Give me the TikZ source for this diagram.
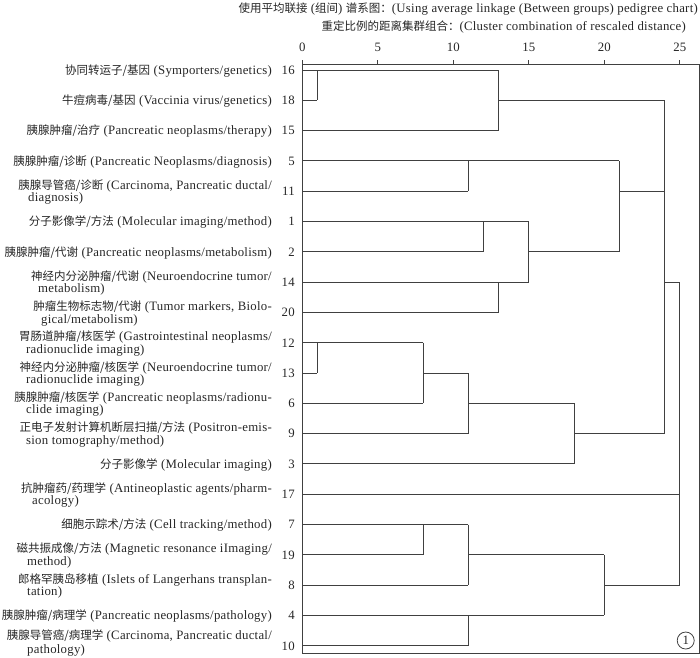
\documentclass[tikz,border=0pt]{standalone}
\usepackage{fontspec}
\setmainfont{Liberation Serif}[LetterSpace=2]
\newfontfamily\cjk{Noto Sans CJK SC}
\newcommand{\zh}[1]{{\cjk\fontsize{11.5pt}{12pt}\selectfont #1}}
\tikzset{
  dline/.style={draw=black!75, line width=0.9pt},
  lab/.style={inner sep=0pt, text=black!85, font=\fontsize{12.8pt}{12.6pt}\selectfont},
  num/.style={inner sep=0pt, text=black!85, font=\fontsize{12.8pt}{12.6pt}\selectfont},
}
\begin{document}
\begin{tikzpicture}[x=1pt,y=-1pt]
\useasboundingbox (0,0) rectangle (700,657);
% header
\node[lab, anchor=base east] (h1) at (698,12) {\zh{使用平均联接} (\zh{组间}) \zh{谱系图：}(Using average linkage (Between groups) pedigree chart)};
\node[lab, anchor=base east] (h2) at (686,30) {\zh{重定比例的距离集群组合：}(Cluster combination of rescaled distance)};
% axis coordinates
\foreach \k in {0,...,25} {\coordinate (u\k) at ({302.3+15.1*\k},64);}
\foreach \k in {0,5,10,15,20,25} {
  \draw[dline] (u\k) -- ++(0,-4);
  \node[num, anchor=base] (t\k) at ([yshift=12.5pt]u\k) {\k};
}
% frame
\coordinate (fTL) at (302.3,64);
\coordinate (fBR) at (699,653);
\draw[dline] (fTL) rectangle (fBR);
% rows
\foreach \n [count=\i from 0] in {16,18,15,5,11,1,2,14,20,12,13,6,9,3,17,7,19,8,4,10} {
  \coordinate (r\n) at (302.3,{70+30.3*\i});
  \node[num, anchor=base east] (n\n) at (295,{74.3+30.3*\i}) {\n};
}
% labels
\node[lab, anchor=base east] (L16) at (272,74.3) {\zh{协同转运子/基因} (Symporters/genetics)};
\node[lab, anchor=base east] (L18) at (272,104.6) {\zh{牛痘病毒/基因} (Vaccinia virus/genetics)};
\node[lab, anchor=base east] (L15) at (272,134.9) {\zh{胰腺肿瘤/治疗} (Pancreatic neoplasms/therapy)};
\node[lab, anchor=base east] (L5) at (272,165.2) {\zh{胰腺肿瘤/诊断} (Pancreatic Neoplasms/diagnosis)};
\node[lab, anchor=base east] (L11) at (272,189.2) {\zh{胰腺导管癌/诊断} (Carcinoma, Pancreatic ductal/};
\node[lab, anchor=base west] (L11b) at (28,201.8) {diagnosis)};
\node[lab, anchor=base east] (L1) at (272,225.8) {\zh{分子影像学/方法} (Molecular imaging/method)};
\node[lab, anchor=base east] (L2) at (272,256.1) {\zh{胰腺肿瘤/代谢} (Pancreatic neoplasms/metabolism)};
\node[lab, anchor=base east] (L14) at (272,280.1) {\zh{神经内分泌肿瘤/代谢} (Neuroendocrine tumor/};
\node[lab, anchor=base west] (L14b) at (38,292.7) {metabolism)};
\node[lab, anchor=base east] (L20) at (272,310.4) {\zh{肿瘤生物标志物/代谢} (Tumor markers, Biolo-};
\node[lab, anchor=base west] (L20b) at (41,323) {gical/metabolism)};
\node[lab, anchor=base east] (L12) at (272,340.7) {\zh{胃肠道肿瘤/核医学} (Gastrointestinal neoplasms/};
\node[lab, anchor=base west] (L12b) at (26,353.3) {radionuclide imaging)};
\node[lab, anchor=base east] (L13) at (272,371) {\zh{神经内分泌肿瘤/核医学} (Neuroendocrine tumor/};
\node[lab, anchor=base west] (L13b) at (26,383.6) {radionuclide imaging)};
\node[lab, anchor=base east] (L6) at (272,401.3) {\zh{胰腺肿瘤/核医学} (Pancreatic neoplasms/radionu-};
\node[lab, anchor=base west] (L6b) at (26,413.9) {clide imaging)};
\node[lab, anchor=base east] (L9) at (272,431.6) {\zh{正电子发射计算机断层扫描/方法} (Positron-emis-};
\node[lab, anchor=base west] (L9b) at (26,444.2) {sion tomography/method)};
\node[lab, anchor=base east] (L3) at (272,468.2) {\zh{分子影像学} (Molecular imaging)};
\node[lab, anchor=base east] (L17) at (272,492.2) {\zh{抗肿瘤药/药理学} (Antineoplastic agents/pharm-};
\node[lab, anchor=base west] (L17b) at (32,504.8) {acology)};
\node[lab, anchor=base east] (L7) at (272,528.8) {\zh{细胞示踪术/方法} (Cell tracking/method)};
\node[lab, anchor=base east] (L19) at (272,552.8) {\zh{磁共振成像/方法} (Magnetic resonance iImaging/};
\node[lab, anchor=base west] (L19b) at (27,565.4) {method)};
\node[lab, anchor=base east] (L8) at (272,583.1) {\zh{郎格罕胰岛移植} (Islets of Langerhans transplan-};
\node[lab, anchor=base west] (L8b) at (27,595.7) {tation)};
\node[lab, anchor=base east] (L4) at (272,619.7) {\zh{胰腺肿瘤/病理学} (Pancreatic neoplasms/pathology)};
\node[lab, anchor=base east] (L10) at (272,639.3) {\zh{胰腺导管癌/病理学} (Carcinoma, Pancreatic ductal/};
\node[lab, anchor=base west] (L10b) at (27,653) {pathology)};
% dendrogram
\draw[dline] (r16) -- (r16-|u13);
\draw[dline] (r16-|u1) -- (r18-|u1);
\draw[dline] (r18) -- (r18-|u1);
\draw[dline] (r16-|u13) -- (r15-|u13);
\draw[dline] (r15) -- (r15-|u13);
\draw[dline] (r18-|u13) -- (r18-|u24);
\draw[dline] (r18-|u24) -- (r9-|u24);
\draw[dline] (r5) -- (r5-|u21);
\draw[dline] (r5-|u11) -- (r11-|u11);
\draw[dline] (r11) -- (r11-|u11);
\draw[dline] (r11-|u21) -- (r11-|u24);
\draw[dline] (r5-|u21) -- (r2-|u21);
\draw[dline] (r1) -- (r1-|u15);
\draw[dline] (r1-|u12) -- (r2-|u12);
\draw[dline] (r2) -- (r2-|u12);
\draw[dline] (r2-|u15) -- (r2-|u21);
\draw[dline] (r1-|u15) -- (r14-|u15);
\draw[dline] (r14) -- (r14-|u15);
\draw[dline] (r14-|u13) -- (r20-|u13);
\draw[dline] (r20) -- (r20-|u13);
\draw[dline] (r14-|u24) -- (r14-|u25);
\draw[dline] (r14-|u25) -- (r8-|u25);
\draw[dline] (r12) -- (r12-|u8);
\draw[dline] (r12-|u1) -- (r13-|u1);
\draw[dline] (r13) -- (r13-|u1);
\draw[dline] (r13-|u8) -- (r13-|u11);
\draw[dline] (r12-|u8) -- (r6-|u8);
\draw[dline] (r6) -- (r6-|u8);
\draw[dline] (r6-|u11) -- (r6-|u18);
\draw[dline] (r13-|u11) -- (r9-|u11);
\draw[dline] (r9) -- (r9-|u11);
\draw[dline] (r9-|u18) -- (r9-|u24);
\draw[dline] (r6-|u18) -- (r3-|u18);
\draw[dline] (r3) -- (r3-|u18);
\draw[dline] (r17) -- (r17-|u25);
\draw[dline] (r7) -- (r7-|u11);
\draw[dline] (r7-|u8) -- (r19-|u8);
\draw[dline] (r19) -- (r19-|u8);
\draw[dline] (r19-|u11) -- (r19-|u20);
\draw[dline] (r7-|u11) -- (r8-|u11);
\draw[dline] (r8) -- (r8-|u11);
\draw[dline] (r8-|u20) -- (r8-|u25);
\draw[dline] (r19-|u20) -- (r4-|u20);
\draw[dline] (r4) -- (r4-|u20);
\draw[dline] (r4-|u11) -- (r10-|u11);
\draw[dline] (r10) -- (r10-|u11);
% circled number
\node[draw=black!75, line width=0.8pt, circle, minimum size=17pt, inner sep=0pt, num] (c1) at (685.7,640.5) {1};
\end{tikzpicture}
\end{document}
